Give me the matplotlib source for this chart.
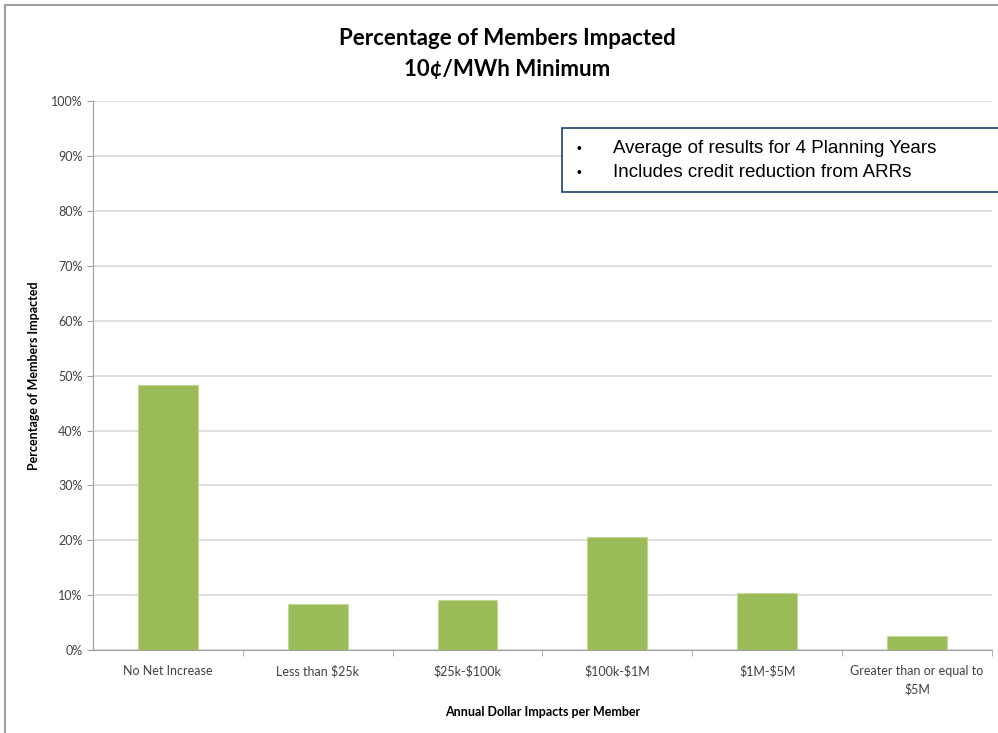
import matplotlib.pyplot as plt
from matplotlib.patches import Rectangle
from matplotlib.ticker import FuncFormatter, MultipleLocator

categories = ["No Net Increase", "Less than \\$25k", "\\$25k-\\$100k", "\\$100k-\\$1M",
              "\\$1M-\\$5M", "Greater than or equal to\n\\$5M"]
values = [48.3, 8.4, 9.2, 20.7, 10.4, 2.6]
notes = ["Average of results for 4 Planning Years",
         "Includes credit reduction from ARRs"]

plt.rcParams["font.family"] = ["Lato", "DejaVu Sans"]

fig = plt.figure(figsize=(9.98, 7.33), dpi=100)
ax = fig.add_axes([0.093, 0.113, 0.901, 0.749])

x = range(len(categories))
ax.bar(x, values, width=0.4, color="#9BBB59", edgecolor="#C4D79B", linewidth=0.8, zorder=3)

ax.set_xlim(-0.5, len(categories) - 0.5)
ax.set_ylim(0, 100)
ax.yaxis.set_major_locator(MultipleLocator(10))
ax.yaxis.set_major_formatter(FuncFormatter(lambda v, p: f"{v:.0f}%"))
ax.grid(axis="y", color="#D9D9D9", linewidth=1.2, zorder=0)

ax.set_xticks(list(x))
ax.set_xticklabels(categories, fontsize=9, color="#404040", linespacing=1.5)
ax.set_xticks([i + 0.5 for i in range(len(categories))], minor=True)
ax.tick_params(axis="x", which="major", length=0, pad=11)
ax.tick_params(axis="x", which="minor", length=4, color="#A0A0A0")
ax.tick_params(axis="y", length=4, color="#A0A0A0", labelsize=9, labelcolor="#404040")

for s in ["top", "right"]:
    ax.spines[s].set_visible(False)
for s in ["left", "bottom"]:
    ax.spines[s].set_color("#A0A0A0")

ax.set_xlabel("Annual Dollar Impacts per Member", fontsize=9, fontweight="bold", labelpad=8)
ax.set_ylabel("Percentage of Members Impacted", fontsize=9, fontweight="bold", labelpad=8)

fig.text(0.508, 0.926, "Percentage of Members Impacted\n10¢/MWh Minimum",
         ha="center", va="center", fontsize=16, fontweight="bold", linespacing=1.6)

# note box
fig.patches.append(Rectangle((0.563, 0.738), 0.45, 0.087, transform=fig.transFigure,
                             fill=True, facecolor="white", edgecolor="#1F3F73", linewidth=1.2, zorder=5))
for i, line in enumerate(notes):
    yy = 0.797 - i * 0.033
    fig.text(0.578, yy, "•", fontsize=10, va="center", family="Liberation Sans", zorder=6)
    fig.text(0.614, yy, line, fontsize=13.5, va="center", family="Liberation Sans", zorder=6)

# outer frame
fig.patches.append(Rectangle((0.005, -0.01), 1.0, 1.003, transform=fig.transFigure,
                             fill=False, edgecolor="#A0A0A0", linewidth=1.5))

fig.savefig("out.png", dpi=100)
